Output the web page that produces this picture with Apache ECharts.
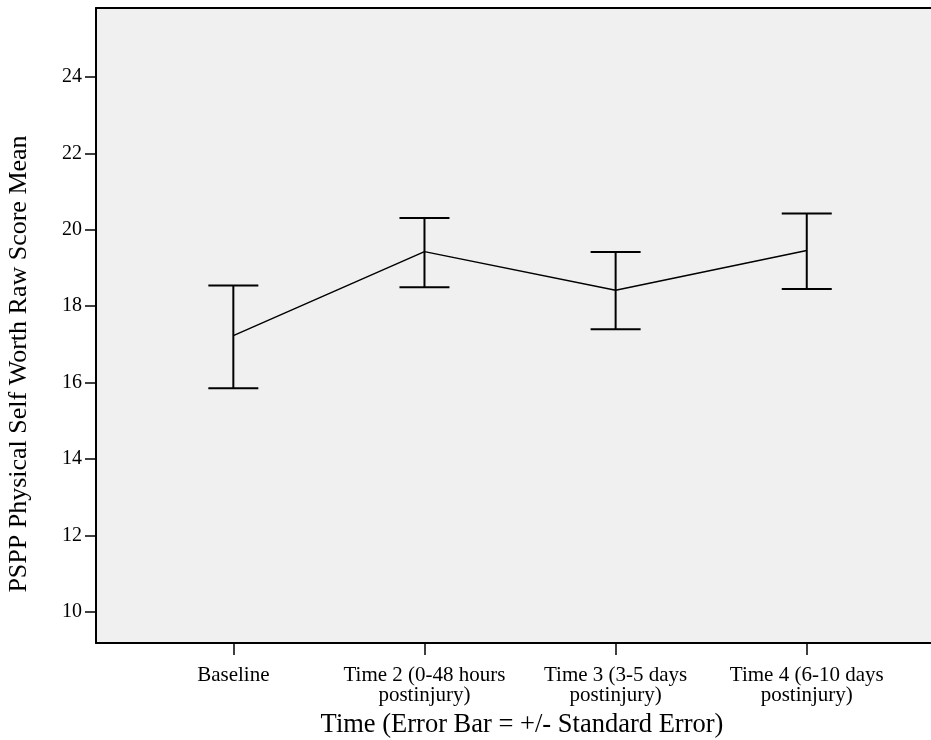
<!DOCTYPE html>
<html>
<head>
<meta charset="utf-8">
<script src="https://cdn.jsdelivr.net/npm/echarts@6/dist/echarts.min.js"></script>
<style>html,body{margin:0;padding:0;background:#fff;}#c{width:931px;height:740px;}</style>
</head>
<body>
<div id="c"></div>
<script>
var categories = ['Baseline', 'Time 2 (0-48 hours\npostinjury)', 'Time 3 (3-5 days\npostinjury)', 'Time 4 (6-10 days\npostinjury)'];
var positions = [1, 2, 3, 4];
var means = [17.23, 19.43, 18.42, 19.46];
var upper = [18.54, 20.31, 19.42, 20.43];
var lower = [15.85, 18.50, 17.40, 18.45];
var yTicks = [10, 12, 14, 16, 18, 20, 22, 24];

var FONT = "'Liberation Serif', 'Times New Roman', serif";
var chart = echarts.init(document.getElementById('c'));

var lineData = positions.map(function (p, i) { return [p, means[i]]; });
var errData = positions.map(function (p, i) { return [p, lower[i], upper[i]]; });

chart.setOption({
  animation: false,
  backgroundColor: '#ffffff',
  grid: { left: 96, right: 0, top: 8, bottom: 97, show: true, backgroundColor: '#F0F0F0', borderWidth: 0,
          containLabel: false, outerBoundsMode: 'none' },
  xAxis: [{
    type: 'value', min: 0.2815, max: 4.65,
    splitLine: { show: false },
    axisLine: { show: true, onZero: false, lineStyle: { color: '#000', width: 2 } },
    axisTick: { show: true, customValues: positions, length: 12, lineStyle: { color: '#000', width: 1.5 } },
    axisLabel: {
      customValues: positions, margin: 22,
      formatter: function (v) { var i = positions.indexOf(v); return i >= 0 ? categories[i] : ''; },
      fontFamily: FONT, fontSize: 21, color: '#000', lineHeight: 20.5, align: 'center'
    },
    name: 'Time (Error Bar = +/- Standard Error)', nameLocation: 'middle', nameGap: 67,
    nameTextStyle: { fontFamily: FONT, fontSize: 26.5, color: '#000', padding: [0, 0, 0, 17] }
  }, {
    type: 'value', position: 'top', min: 0.2815, max: 4.65,
    splitLine: { show: false }, axisTick: { show: false }, axisLabel: { show: false },
    axisLine: { show: true, onZero: false, lineStyle: { color: '#000', width: 2 } }
  }],
  yAxis: {
    type: 'value', min: 9.18, max: 25.81,
    splitLine: { show: false },
    axisLine: { show: true, onZero: false, lineStyle: { color: '#000', width: 2 } },
    axisTick: { show: true, customValues: yTicks, length: 11, lineStyle: { color: '#000', width: 1.5 } },
    axisLabel: { customValues: yTicks, margin: 14, fontFamily: FONT, fontSize: 20, color: '#000' },
    name: 'PSPP Physical Self Worth Raw Score Mean', nameLocation: 'middle', nameGap: 64, nameRotate: 90,
    nameTextStyle: { fontFamily: FONT, fontSize: 26, color: '#000', padding: [0, 77, 0, 0] }
  },
  series: [{
    type: 'line', data: lineData, symbol: 'none',
    lineStyle: { color: '#000', width: 1.5 }, z: 3
  }, {
    type: 'custom', data: errData, z: 4,
    renderItem: function (params, api) {
      var x = api.value(0);
      var lo = api.coord([x, api.value(1)]);
      var hi = api.coord([x, api.value(2)]);
      var hw = 25;
      var st = { stroke: '#000', lineWidth: 2 };
      return {
        type: 'group', children: [
          { type: 'line', shape: { x1: lo[0], y1: lo[1], x2: hi[0], y2: hi[1] }, style: st },
          { type: 'line', shape: { x1: lo[0] - hw, y1: lo[1], x2: lo[0] + hw, y2: lo[1] }, style: st },
          { type: 'line', shape: { x1: hi[0] - hw, y1: hi[1], x2: hi[0] + hw, y2: hi[1] }, style: st }
        ]
      };
    }
  }]
});
</script>
</body>
</html>
